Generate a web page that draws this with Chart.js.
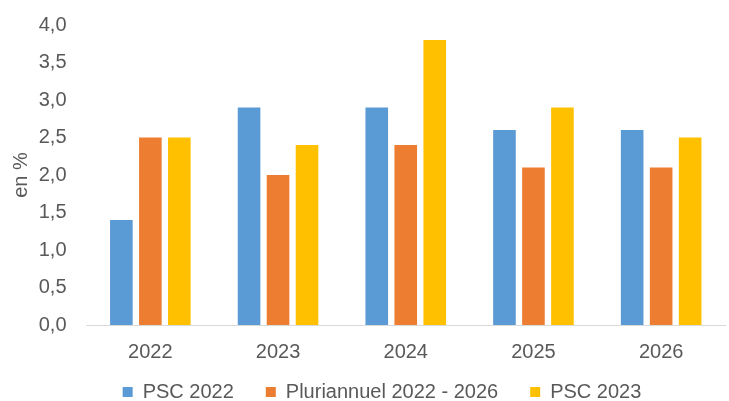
<!DOCTYPE html>
<html><head><meta charset="utf-8">
<script src="https://cdn.jsdelivr.net/npm/chart.js@4"></script>
<style>html,body{margin:0;padding:0;background:#fff}#wrap{width:729px;height:401px}</style>
</head><body><div id="wrap"><canvas id="c" width="729" height="401"></canvas></div>
<script>
const categories = ['2022','2023','2024','2025','2026'];
const psc2022 = [1.4, 2.9, 2.9, 2.6, 2.6];
const pluriannuel = [2.5, 2.0, 2.4, 2.1, 2.1];
const psc2023 = [2.5, 2.4, 3.8, 2.9, 2.5];
const seriesNames = ['PSC 2022', 'Pluriannuel 2022 - 2026', 'PSC 2023'];
const yTitle = 'en %';

const colors = ['#5B9BD5', '#ED7D31', '#FFC000'];
const font = {family: '"Liberation Sans", Arial, sans-serif', size: 20};
Chart.defaults.font = font;
Chart.defaults.color = '#595959';

// Compact the legend vertically while keeping the horizontal item spacing
const legendTweak = {
  id: 'legendTweak',
  beforeInit(chart) {
    const lg = chart.legend;
    if (!lg || lg._tweaked) return;
    lg._tweaked = true;
    const fit = lg.fit;
    lg.fit = function () { fit.call(this); this.height = 37; };
    lg.draw = function () {
      if (!this.options.display) return;
      const ctx = this.ctx;
      ctx.save(); ctx.translate(18, -14); this._draw(); ctx.restore();
    };
  }
};

new Chart(document.getElementById('c'), {
  type: 'bar',
  data: {
    labels: categories,
    datasets: [psc2022, pluriannuel, psc2023].map((d, i) => ({
      label: seriesNames[i], data: d, backgroundColor: colors[i],
      borderWidth: 0,
      categoryPercentage: 0.681, barPercentage: 0.78
    }))
  },
  plugins: [legendTweak],
  options: {
    responsive: false, animation: false,
    layout: {padding: {left: 3, right: 4, top: 25, bottom: 0}},
    plugins: {
      legend: {position: 'bottom', labels: {boxWidth: 10, boxHeight: 10, padding: 32, color: '#595959', font: font}},
      tooltip: {enabled: false}
    },
    scales: {
      x: {
        grid: {display: false, drawTicks: false},
        border: {color: '#D9D9D9', width: 1},
        ticks: {padding: 15, color: '#595959', font: font},
        afterFit(s) { s.height = 39; }
      },
      y: {
        min: 0, max: 4,
        grid: {display: false, drawTicks: false},
        border: {display: false},
        ticks: {stepSize: 0.5, padding: 20, color: '#595959', font: font,
          callback: v => v.toFixed(1).replace('.', ',')},
        title: {display: true, text: yTitle, color: '#595959', font: font, padding: 6},
        afterFit(s) { s.width = 83.5; s.paddingTop = 0; s.paddingBottom = 0; }
      }
    }
  }
});
</script></body></html>
